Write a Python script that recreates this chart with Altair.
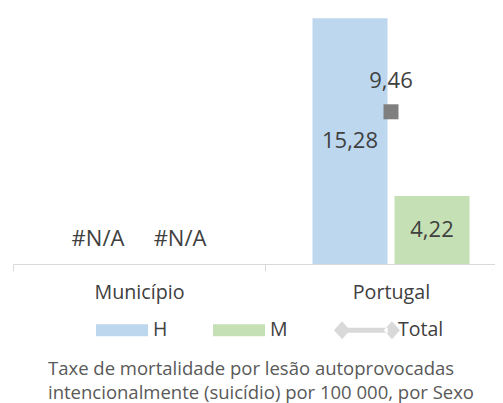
import altair as alt
import pandas as pd

categories = ["Município", "Portugal"]
h_values = [None, 15.28]
m_values = [None, 4.22]
total_values = [None, 9.46]
series = ["H", "M", "Total"]
series_colors = ["#bdd7ee", "#c5e0b4", "#d9d9d9"]
title_lines = ["Taxe de mortalidade por lesão autoprovocadas",
               "intencionalmente (suicídio) por 100 000, por Sexo"]

RECT = "M-1,-0.23H1V0.23H-1Z"
TOTAL_SYM = ("M-1.27,0L-0.96,-0.35L-0.65,0L-0.96,0.35Z"
             "M1.27,0L0.96,-0.35L0.65,0L0.96,0.35Z"
             "M-0.8,-0.1H0.8V0.1H-0.8Z")
series_shapes = [RECT, RECT, TOTAL_SYM]


def fmt(v):
    return "#N/A" if v is None else f"{v:.2f}".replace(".", ",")


rows = []
for c, h, m in zip(categories, h_values, m_values):
    rows.append({"cat": c, "serie": "H", "value": h, "label": fmt(h)})
    rows.append({"cat": c, "serie": "M", "value": m, "label": fmt(m)})
bars_df = pd.DataFrame(rows)
total_df = pd.DataFrame({"cat": categories, "value": total_values,
                         "label": [fmt(v) for v in total_values]})
legend_df = pd.DataFrame({"serie": series})

FONT = "Open Sans"
TXT = "#404040"
LBL = 22

x_enc = alt.X("cat:N", sort=categories,
              scale=alt.Scale(domain=categories, paddingInner=0, paddingOuter=0),
              axis=alt.Axis(title=None, labelAngle=0, tickBand="extent", domainColor="#d9d9d9",
                            tickColor="#d9d9d9", tickSize=7, labelFontSize=19.7, labelColor=TXT,
                            labelFont=FONT, labelPadding=11, grid=False))
xo_enc = alt.XOffset("serie:N", scale=alt.Scale(domain=["H", "M"], paddingInner=0.0854, paddingOuter=0.579))
y_scale = alt.Scale(domain=[0, 15.6])

legend = alt.Legend(title=None, orient="none", legendX=83, legendY=291, direction="horizontal",
                    symbolSize=2704, labelFontSize=19.5, labelFont=FONT, labelColor=TXT,
                    labelOffset=5, columnPadding=45, symbolStrokeWidth=0, padding=0)
color_enc = alt.Color("serie:N", scale=alt.Scale(domain=series, range=series_colors), legend=legend)
shape_enc = alt.Shape("serie:N", scale=alt.Scale(domain=series, range=series_shapes), legend=legend)

bars = alt.Chart(bars_df).mark_bar().encode(
    x=x_enc, xOffset=xo_enc,
    y=alt.Y("value:Q", scale=y_scale, axis=None),
    color=color_enc,
).transform_filter("datum.value != null")

bar_labels = alt.Chart(bars_df).transform_filter("datum.value != null").transform_calculate(
    mid="datum.value / 2"
).mark_text(font=FONT, fontSize=LBL, color=TXT, baseline="middle").encode(
    x=x_enc, xOffset=xo_enc,
    y=alt.Y("mid:Q", scale=y_scale, axis=None),
    text="label:N",
)

na_labels = alt.Chart(bars_df).transform_filter("datum.value == null").transform_calculate(
    zero="0"
).mark_text(font=FONT, fontSize=LBL, color=TXT, baseline="middle", dy=-25).encode(
    x=x_enc, xOffset=xo_enc,
    y=alt.Y("zero:Q", scale=y_scale, axis=None),
    text="label:N",
)

total_pts = alt.Chart(total_df).transform_filter("datum.value != null").mark_square(
    size=225, color="#7f7f7f", opacity=1, filled=True
).encode(
    x=x_enc,
    y=alt.Y("value:Q", scale=y_scale, axis=None),
)

total_labels = alt.Chart(total_df).transform_filter("datum.value != null").mark_text(
    font=FONT, fontSize=LBL, color=TXT, baseline="middle", dy=-31
).encode(
    x=x_enc,
    y=alt.Y("value:Q", scale=y_scale, axis=None),
    text="label:N",
)

legend_layer = alt.Chart(legend_df).transform_filter("false").mark_point(
    filled=True, opacity=1, strokeWidth=0
).encode(color=color_enc, shape=shape_enc)

chart = alt.layer(bars, bar_labels, na_labels, total_pts, total_labels, legend_layer).properties(
    width=504, height=251,
    autosize=alt.AutoSizeParams(type="none"),
    padding={"left": 5, "top": 5, "right": -22, "bottom": 139},
    title=alt.TitleParams(text=title_lines, orient="bottom", anchor="start", frame="group",
                          align="left", font=FONT, fontSize=18.5, fontWeight="normal",
                          color="#595959", lineHeight=23.5, offset=20, dx=35),
).configure_view(stroke=None)

chart.save("out.html", embed_options={"renderer": "svg", "actions": False})
